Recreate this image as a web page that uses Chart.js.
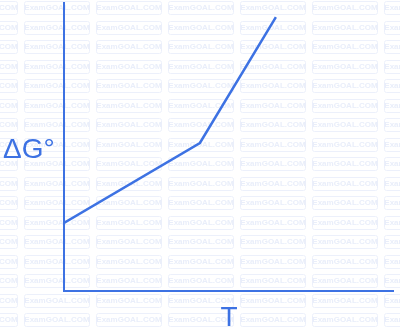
<!DOCTYPE html>
<html lang="en">
  <head>
    <meta charset="UTF-8" />
    <title>ΔG° vs T</title>
    <style>
      html, body { margin: 0; padding: 0; background: #fff; }
      .chart { width: 400px; height: 329px; position: relative; }
    </style>
  </head>
  <body>
    <script src="https://cdn.jsdelivr.net/npm/chart.js"></script>
    <div class="chart">
      <canvas id="chart"></canvas>
    </div>

    <script>
      // data (axes have no ticks, 0..100 units)
      const tValues = [0, 41.3, 64.4];
      const gValues = [23.6, 51.4, 95.1];
      const yLabel = "ΔG°";
      const xLabel = "T";
      const watermark = "ExamGOAL.COM";

      const blue = "#3d72e3";

      // faint repeated watermark boxes behind everything
      const watermarkPlugin = {
        id: "watermark",
        beforeDraw(chart) {
          const ctx = chart.ctx;
          ctx.save();
          ctx.font = "bold 8px 'Liberation Sans', Arial, sans-serif";
          ctx.textAlign = "center";
          ctx.textBaseline = "middle";
          ctx.strokeStyle = "#ecf0fb";
          ctx.fillStyle = "#e9eefa";
          ctx.lineWidth = 1;
          for (let y = 1; y < chart.height; y += 19.5) {
            for (let x = -48; x < chart.width; x += 72) {
              ctx.beginPath();
              ctx.roundRect(x + 0.5, Math.round(y) + 0.5, 65, 13, 2);
              ctx.stroke();
              ctx.fillText(watermark, x + 33, Math.round(y) + 7);
            }
          }
          ctx.restore();
        },
      };

      // axis labels: ΔG° to the left, T under the x axis
      const labelPlugin = {
        id: "axisLabels",
        afterDraw(chart) {
          const ctx = chart.ctx;
          ctx.save();
          ctx.fillStyle = blue;
          ctx.textBaseline = "alphabetic";
          ctx.font = "28px 'Liberation Sans', Arial, sans-serif";
          ctx.textAlign = "left";
          ctx.fillText(yLabel, 3, 158);
          ctx.textAlign = "center";
          ctx.fillText(xLabel, 229, 326);
          ctx.restore();
        },
      };

      new Chart(document.getElementById("chart"), {
        type: "line",
        data: {
          datasets: [
            {
              data: tValues.map((t, i) => ({ x: t, y: gValues[i] })),
              borderColor: blue,
              borderWidth: 2.5,
              pointRadius: 0,
              tension: 0,
              fill: false,
            },
          ],
        },
        options: {
          responsive: true,
          maintainAspectRatio: false,
          animation: false,
          layout: { padding: { left: 56, top: 3, right: 7, bottom: 30 } },
          plugins: { legend: { display: false }, tooltip: { enabled: false } },
          scales: {
            x: {
              type: "linear",
              min: 0,
              max: 100,
              ticks: { display: false },
              grid: { display: false },
              border: { color: blue, width: 2 },
            },
            y: {
              min: 0,
              max: 100,
              ticks: { display: false },
              grid: { display: false },
              border: { color: blue, width: 2 },
            },
          },
        },
        plugins: [watermarkPlugin, labelPlugin],
      });
    </script>
  </body>
</html>
